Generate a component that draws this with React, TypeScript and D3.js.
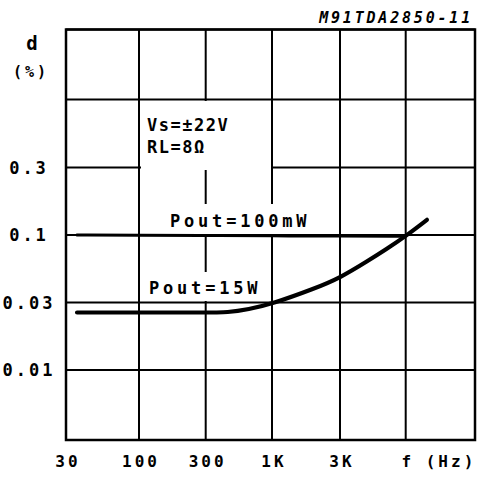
import React from "react";
import * as d3 from "d3";

const W = 483;
const H = 481;

// grid values (equally spaced on the chart)
const xGridValues = [30, 100, 300, 1000, 3000, 10000, 30000];
const yGridValues = [0.003, 0.01, 0.03, 0.1, 0.3, 1, 3];

const xTickValues = [30, 100, 300, 1000, 3000, 10000];
const xTickLabels = ["30", "100", "300", "1K", "3K", "f"];
const yTickValues = [0.3, 0.1, 0.03, 0.01];
const yTickLabels = ["0.3", "0.1", "0.03", "0.01"];

// Pout = 100mW
const freq100mW = [36, 100, 300, 1000, 3000, 9500];
const thd100mW = [0.1, 0.0995, 0.099, 0.0985, 0.098, 0.098];

// Pout = 15W
const freq15W = [36, 36, 100, 300, 450, 650, 1000, 2000, 3000, 5000, 7000, 10000, 14000, 14000];
const thd15W = [0.0255, 0.0255, 0.0255, 0.0255, 0.0255, 0.0268, 0.0293, 0.0385, 0.0465, 0.063, 0.0775, 0.098, 0.128, 0.128];

const FONT = "'DejaVu Sans Mono', monospace";

export default function App() {
  const x = d3
    .scaleLog()
    .domain(xGridValues)
    .range([66, 139, 205.7, 272, 340, 405.7, 475]);
  const y = d3
    .scaleLog()
    .domain(yGridValues)
    .range([440, 370, 302.5, 235, 167.5, 99.5, 29.5]);

  const line = d3
    .line<[number, number]>()
    .x((d) => x(d[0]))
    .y((d) => y(d[1]))
    .curve(d3.curveBasis);

  const d100 = line(freq100mW.map((f, i) => [f, thd100mW[i]] as [number, number])) || "";
  const d15 = line(freq15W.map((f, i) => [f, thd15W[i]] as [number, number])) || "";

  const x0 = x(30);
  const x1 = x(30000);
  const y0 = y(0.003);
  const y1 = y(3);

  return (
    <svg
      width={W}
      height={H}
      style={{ position: "absolute", left: 0, top: 0, background: "#fff" }}
    >
      <rect x={0} y={0} width={W} height={H} fill="#fff" />
      {/* grid */}
      <g stroke="#000" strokeWidth={2}>
        {xGridValues.map((v) => (
          <line key={"vx" + v} x1={x(v)} x2={x(v)} y1={y1} y2={y0} />
        ))}
        {yGridValues.map((v) => (
          <line key={"hy" + v} x1={x0} x2={x1} y1={y(v)} y2={y(v)} />
        ))}
        <rect x={x0} y={y1} width={x1 - x0} height={y0 - y1} fill="none" strokeWidth={2.5} />
      </g>

      {/* knock-out boxes behind labels */}
      <g fill="#fff">
        <rect x={x(100) + 2} y={y(1) + 1.5} width={x(1000) - x(100) - 3} height={y(0.3) - y(1) + 1} />
        <rect x={166} y={204} width={148} height={y(0.1) - 205} />
        <rect x={145} y={272} width={120} height={y(0.03) - 273.5} />
      </g>

      {/* curves */}
      <path d={d100} fill="none" stroke="#000" strokeWidth={3} strokeLinecap="round" />
      <path d={d15} fill="none" stroke="#000" strokeWidth={4.2} strokeLinecap="round" />

      {/* labels */}
      <g fontFamily={FONT} fill="#000" fontWeight="bold">
        <text x={147} y={131} fontSize={17} letterSpacing={1.5}>Vs=±22V</text>
        <text x={147} y={153} fontSize={17} letterSpacing={1.5}>RL=8Ω</text>
        <text x={170} y={227} fontSize={17} letterSpacing={3.8}>Pout=100mW</text>
        <text x={149} y={294} fontSize={17} letterSpacing={3.8}>Pout=15W</text>

        {yTickValues.map((v, i) => (
          <text key={"yt" + v} x={29} y={y(v)} dy="0.36em" fontSize={17} letterSpacing={3} textAnchor="middle">
            {yTickLabels[i]}
          </text>
        ))}
        {xTickValues.map((v, i) => (
          <text key={"xt" + v} x={x(v) + 2} y={467} fontSize={16} letterSpacing={3} textAnchor="middle">
            {xTickLabels[i]}
          </text>
        ))}
        <text x={451} y={467} fontSize={16} letterSpacing={3} textAnchor="middle">(Hz)</text>

        <text x={32} y={50} fontSize={19} textAnchor="middle">d</text>
        <text x={31} y={77} fontSize={15} letterSpacing={3} textAnchor="middle">(%)</text>

        <text x={473} y={23} fontSize={15} letterSpacing={2.8} textAnchor="end" fontStyle="italic">
          M91TDA2850-11
        </text>
      </g>
    </svg>
  );
}
